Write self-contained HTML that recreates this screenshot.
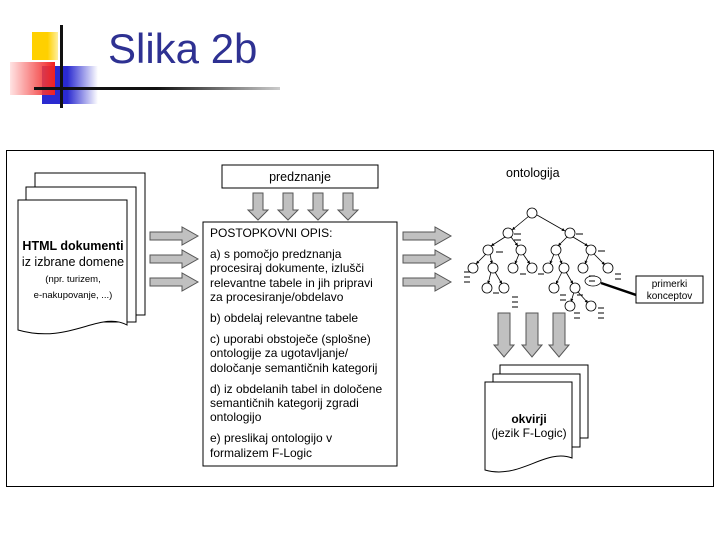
<!DOCTYPE html>
<html><head><meta charset="utf-8"><style>
body{margin:0;width:720px;height:540px;background:#fff;overflow:hidden;position:relative;font-family:"Liberation Sans",sans-serif}
.t{position:absolute;font-size:12px;color:#000;white-space:nowrap}
</style></head><body>
<div style="position:absolute;left:32px;top:32px;width:26px;height:28px;background:linear-gradient(90deg,#ffd000 60%,#fff0a0 100%)"></div>
<div style="position:absolute;left:42px;top:66px;width:56px;height:38px;background:linear-gradient(90deg,#2a2ad0 45%,rgba(60,60,220,0) 100%)"></div>
<div style="position:absolute;left:10px;top:62px;width:45px;height:33px;background:linear-gradient(90deg,rgba(255,200,200,0.5),#f02020)"></div>
<div style="position:absolute;left:60px;top:25px;width:3px;height:83px;background:#111"></div>
<div style="position:absolute;left:34px;top:87px;width:246px;height:3px;background:linear-gradient(90deg,#111 50%,#ccc)"></div>
<div style="position:absolute;left:108px;top:25px;font-size:42px;color:#2e3192">Slika 2b</div>
<div style="position:absolute;left:6px;top:150px;width:706px;height:335px;border:1px solid #000"></div>
<svg width="720" height="540" style="position:absolute;left:0;top:0">
<defs><marker id="a" markerWidth="4" markerHeight="4" refX="4" refY="2" orient="auto"><path d="M0,0L4,2L0,4z" fill="#000"/></marker></defs>
<g fill="#fff" stroke="#000" stroke-width="1">
<path d="M35,173H145V315H35z"/><path d="M26,187H136V322H26z"/>
<path d="M18,200H127V325C100,310 70,345 18,330z"/>
<path d="M500,365H588V438H500z"/><path d="M493,374H580V447H493z"/>
<path d="M485,382H572V458C545,448 520,480 485,470z"/>
<rect x="222" y="165" width="156" height="23"/>
<rect x="203" y="222" width="194" height="244"/>
<rect x="636" y="276" width="67" height="27"/>
</g>
<g fill="#c0c0c0" stroke="#555" stroke-width="1">
<path d="M253,193h10v17h5l-10,10l-10,-10h5z"/>
<path d="M283,193h10v17h5l-10,10l-10,-10h5z"/>
<path d="M313,193h10v17h5l-10,10l-10,-10h5z"/>
<path d="M343,193h10v17h5l-10,10l-10,-10h5z"/>
<path d="M150,232h32v-5l16,9l-16,9v-5h-32z"/>
<path d="M150,255h32v-5l16,9l-16,9v-5h-32z"/>
<path d="M150,278h32v-5l16,9l-16,9v-5h-32z"/>
<path d="M403,232h32v-5l16,9l-16,9v-5h-32z"/>
<path d="M403,255h32v-5l16,9l-16,9v-5h-32z"/>
<path d="M403,278h32v-5l16,9l-16,9v-5h-32z"/>
<path d="M498,313h12v32h4l-10,12l-10,-12h4z"/>
<path d="M526,313h12v32h4l-10,12l-10,-12h4z"/>
<path d="M553,313h12v32h4l-10,12l-10,-12h4z"/>
</g>
<g stroke="#000" stroke-width="0.8" marker-end="url(#a)">
<line x1="529" y1="216" x2="512" y2="230"/><line x1="537" y1="215" x2="565" y2="231"/>
<line x1="505" y1="237" x2="491" y2="246"/><line x1="511" y1="237" x2="518" y2="246"/>
<line x1="567" y1="237" x2="558" y2="246"/><line x1="573" y1="237" x2="588" y2="246"/>
<line x1="486" y1="254" x2="476" y2="264"/><line x1="490" y1="254" x2="492" y2="264"/>
<line x1="519" y1="254" x2="515" y2="264"/><line x1="523" y1="254" x2="530" y2="264"/>
<line x1="554" y1="254" x2="550" y2="264"/><line x1="558" y1="254" x2="562" y2="264"/>
<line x1="589" y1="254" x2="585" y2="264"/><line x1="594" y1="254" x2="605" y2="265"/>
<line x1="491" y1="272" x2="488" y2="284"/><line x1="495" y1="272" x2="502" y2="284"/>
<line x1="562" y1="272" x2="556" y2="284"/><line x1="566" y1="272" x2="573" y2="284"/>
<line x1="574" y1="292" x2="571" y2="302"/><line x1="578" y1="292" x2="588" y2="303"/>
</g>
<g fill="#fff" stroke="#000" stroke-width="0.8">
<circle cx="532" cy="213" r="5"/><circle cx="508" cy="233" r="5"/><circle cx="570" cy="233" r="5"/>
<circle cx="488" cy="250" r="5"/><circle cx="521" cy="250" r="5"/><circle cx="556" cy="250" r="5"/><circle cx="591" cy="250" r="5"/>
<circle cx="473" cy="268" r="5"/><circle cx="493" cy="268" r="5"/><circle cx="513" cy="268" r="5"/><circle cx="532" cy="268" r="5"/>
<circle cx="548" cy="268" r="5"/><circle cx="564" cy="268" r="5"/><circle cx="583" cy="268" r="5"/><circle cx="608" cy="268" r="5"/>
<circle cx="487" cy="288" r="5"/><circle cx="504" cy="288" r="5"/><circle cx="554" cy="288" r="5"/><circle cx="575" cy="288" r="5"/>
<circle cx="570" cy="306" r="5"/><circle cx="591" cy="306" r="5"/>
<ellipse cx="593" cy="281" rx="8" ry="5"/>
</g>
<g stroke="#000" stroke-width="1">
<path d="M514,234h7M514,240h7M576,234h7M496,252h7M598,251h7M464,272h6M464,277h6M464,282h6M520,274h6M538,274h6M615,274h6M615,279h6M589,276h6M589,281h6M493,293h6M512,297h6M512,302h6M512,307h6M560,295h6M560,300h6M577,295h6M574,313h6M574,318h6M598,308h6M598,313h6M598,318h6"/>
</g>
<line x1="601" y1="283" x2="636" y2="295" stroke="#000" stroke-width="2.5"/>
</svg>
<div class="t" style="left:222px;top:170px;width:156px;text-align:center;font-size:12.5px">predznanje</div>
<div class="t" style="left:506px;top:166px;font-size:12.5px">ontologija</div>
<div class="t" style="left:18px;top:238px;width:110px;text-align:center;font-size:12.5px;line-height:16px"><b>HTML dokumenti</b><br>iz izbrane domene<br><span style="font-size:9.5px;line-height:13px">(npr. turizem,<br>e-nakupovanje, ...)</span></div>
<div class="t" style="left:210px;top:226px;line-height:14.2px">POSTOPKOVNI OPIS:<br><span style="display:block;height:7px"></span>a) s pomočjo predznanja<br>procesiraj dokumente, izlušči<br>relevantne tabele in jih pripravi<br>za procesiranje/obdelavo<br><span style="display:block;height:7px"></span>b) obdelaj relevantne tabele<br><span style="display:block;height:7px"></span>c) uporabi obstoječe (splošne)<br>ontologije za ugotavljanje/<br>določanje semantičnih kategorij<br><span style="display:block;height:7px"></span>d) iz obdelanih tabel in določene<br>semantičnih kategorij zgradi<br>ontologijo<br><span style="display:block;height:7px"></span>e) preslikaj ontologijo v<br>formalizem F-Logic</div>
<div class="t" style="left:485px;top:412px;width:88px;text-align:center;line-height:14px"><b>okvirji</b><br>(jezik F-Logic)</div>
<div class="t" style="left:636px;top:279px;width:67px;text-align:center;font-size:10px;line-height:12px">primerki<br>konceptov</div>
</body></html>
